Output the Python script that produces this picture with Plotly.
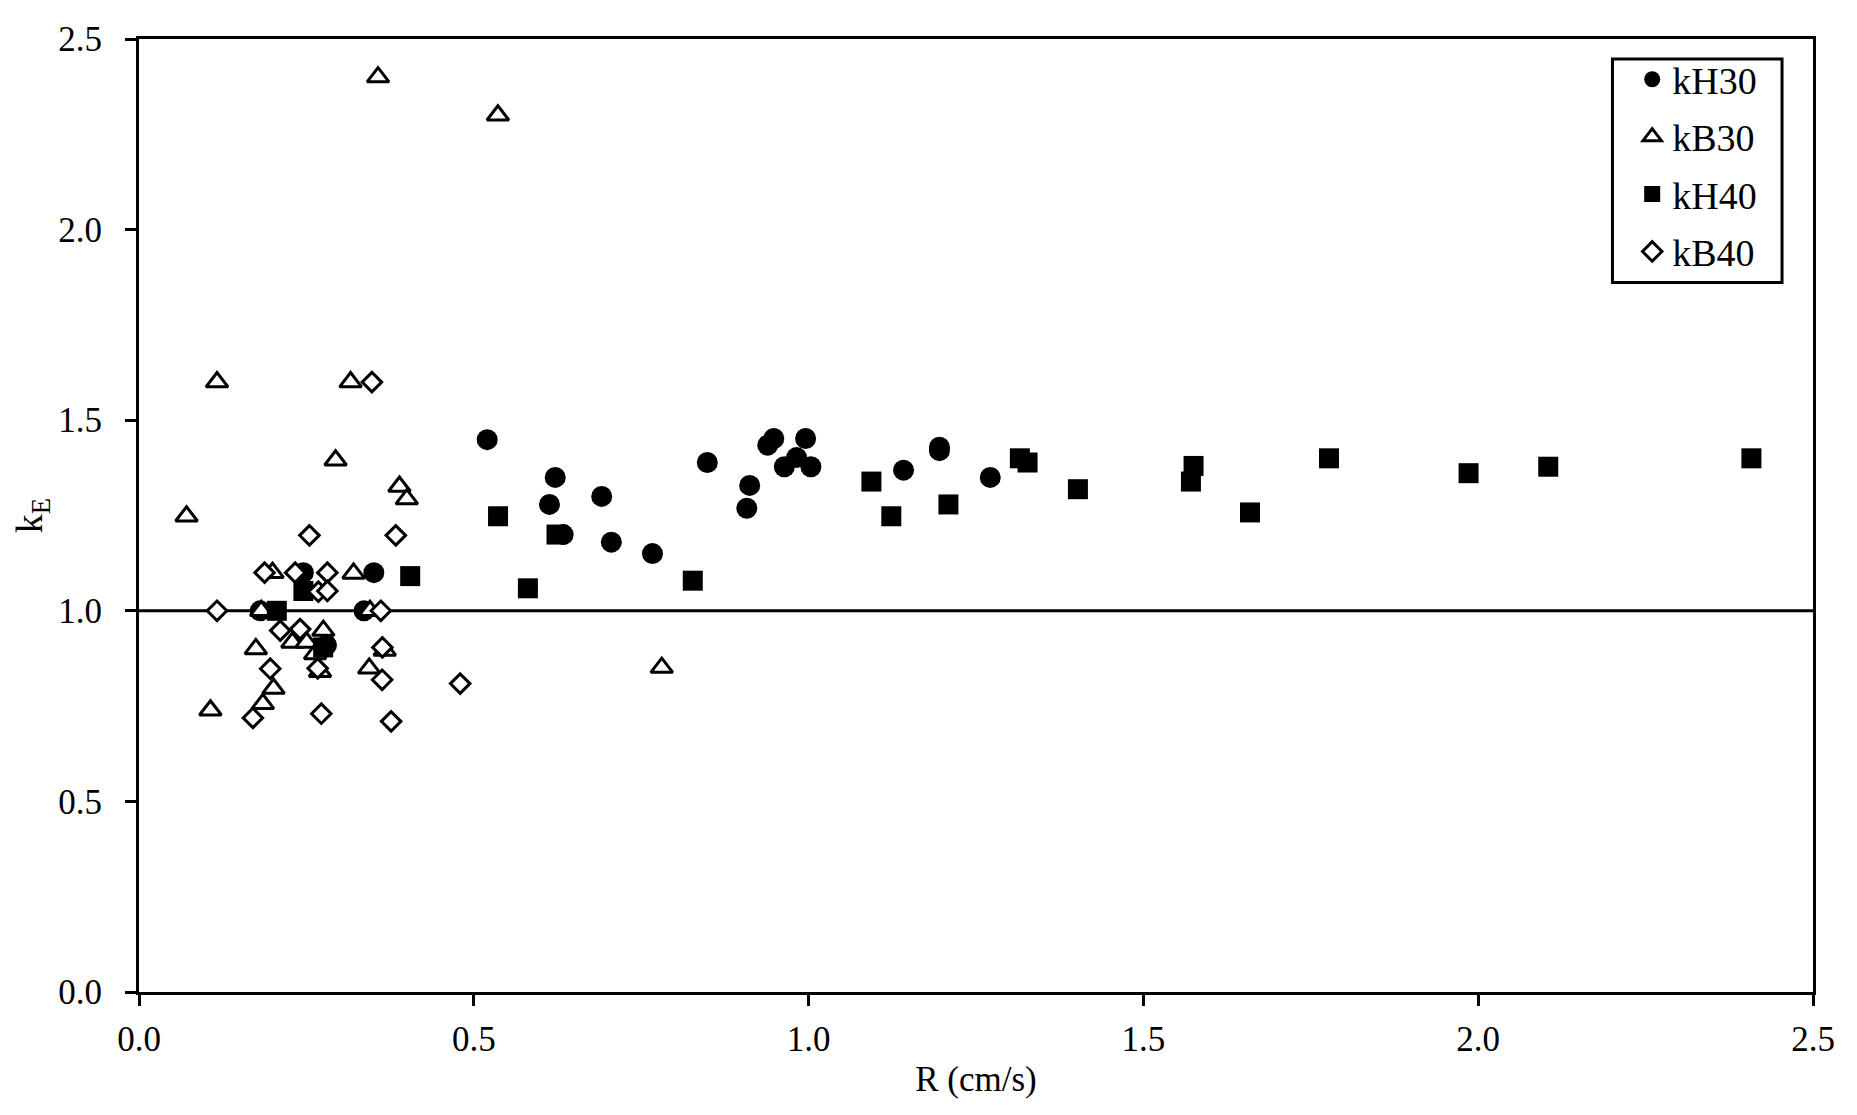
import plotly.graph_objects as go

# kH30 (filled circles)
kh30_x = [0.181, 0.2455, 0.280, 0.336, 0.3507, 0.520, 0.613, 0.6216, 0.6335, 0.691,
          0.7054, 0.7668, 0.8487, 0.9077, 0.912, 0.939, 0.948, 0.9638, 0.982, 0.9955,
          1.0034, 1.1418, 1.1954, 1.1954, 1.2713]
kh30_y = [1.00, 1.10, 0.91, 1.00, 1.10, 1.449, 1.279, 1.350, 1.200, 1.300,
          1.180, 1.150, 1.389, 1.269, 1.329, 1.4345, 1.452, 1.378, 1.402, 1.452,
          1.378, 1.369, 1.429, 1.420, 1.350]

# kB30 (open triangles)
kb30_x = [0.071, 0.1067, 0.1165, 0.1745, 0.1826, 0.185, 0.1994, 0.2009, 0.229, 0.2504,
          0.263, 0.2704, 0.2753, 0.2936, 0.316, 0.3204, 0.3438, 0.345, 0.357, 0.367,
          0.389, 0.400, 0.536, 0.7807]
kb30_y = [1.248, 0.739, 1.600, 0.900, 1.000, 0.756, 1.100, 0.796, 0.917, 0.917,
          0.887, 0.840, 0.948, 1.395, 1.600, 1.098, 0.849, 1.000, 2.400, 0.896,
          1.326, 1.293, 2.300, 0.851]

# kH40 (filled squares)
kh40_x = [0.2058, 0.2455, 0.275, 0.405, 0.5362, 0.5808, 0.6235, 0.827, 1.0938, 1.1235,
          1.2088, 1.3155, 1.327, 1.4022, 1.571, 1.5749, 1.6592, 1.7772, 1.9856, 2.1046,
          2.408]
kh40_y = [1.000, 1.052, 0.904, 1.091, 1.248, 1.059, 1.200, 1.079, 1.339, 1.248,
          1.279, 1.400, 1.389, 1.319, 1.339, 1.380, 1.258, 1.400, 1.361, 1.378,
          1.400]

# kB40 (open diamonds)
kb40_x = [0.1165, 0.1701, 0.1875, 0.196, 0.2109, 0.2332, 0.2406, 0.2545, 0.2668, 0.2679,
          0.2723, 0.2813, 0.2813, 0.3478, 0.3612, 0.3631, 0.3635, 0.3765, 0.3835, 0.4796]
kb40_y = [1.000, 0.719, 1.100, 0.848, 0.948, 1.100, 0.952, 1.198, 0.849, 1.050,
          0.730, 1.100, 1.052, 1.600, 1.000, 0.819, 0.904, 0.710, 1.198, 0.809]

ref_y = 1.0
axis_range = [0, 2.5]
tick_vals = [0.0, 0.5, 1.0, 1.5, 2.0, 2.5]
tick_text = ["0.0", "0.5", "1.0", "1.5", "2.0", "2.5"]

FONT = "Liberation Serif, Times New Roman, serif"

fig = go.Figure()
fig.add_trace(go.Scatter(x=kh30_x, y=kh30_y, mode="markers", name="kH30", legendgroup="a",
                         marker=dict(symbol="circle", size=21, color="black",
                                     line=dict(width=0))))
fig.add_trace(go.Scatter(x=kb30_x, y=kb30_y, mode="markers", name="kB30", legendgroup="b",
                         marker=dict(symbol="triangle-up", size=19, color="white",
                                     line=dict(width=3, color="black"))))
fig.add_trace(go.Scatter(x=kh40_x, y=kh40_y, mode="markers", name="kH40", legendgroup="c",
                         marker=dict(symbol="square", size=20, color="black",
                                     line=dict(width=0))))
fig.add_trace(go.Scatter(x=kb40_x, y=kb40_y, mode="markers", name="kB40", legendgroup="d",
                         marker=dict(symbol="diamond", size=15, color="white",
                                     line=dict(width=3, color="black"))))

fig.add_shape(type="line", xref="x", yref="y", x0=axis_range[0], x1=axis_range[1],
              y0=ref_y, y1=ref_y, line=dict(color="black", width=3), layer="below")
# legend frame
fig.add_shape(type="rect", xref="paper", yref="paper", x0=0.8802, x1=0.9815,
              y0=0.7445, y1=0.9791, line=dict(color="black", width=3),
              fillcolor="rgba(0,0,0,0)", layer="above")

axis_common = dict(
    range=axis_range, tickvals=tick_vals, ticktext=tick_text,
    showline=True, linewidth=3, linecolor="black", mirror=True,
    ticks="outside", ticklen=11, tickwidth=3, tickcolor="black",
    showgrid=False, zeroline=False,
    tickfont=dict(family=FONT, size=35, color="black"),
)

fig.update_layout(
    width=1849, height=1107,
    margin=dict(l=127, r=44, t=25, b=123),
    plot_bgcolor="white", paper_bgcolor="white",
    font=dict(family=FONT, color="black"),
    xaxis=dict(**axis_common, ticklabelstandoff=3,
               title=dict(text="R (cm/s)", font=dict(family=FONT, size=35), standoff=9)),
    yaxis=dict(**axis_common, ticklabelstandoff=16,
               title=dict(text="k<sub>E</sub>", font=dict(family=FONT, size=38), standoff=12)),
    legend=dict(x=0.892, y=0.9905, xanchor="left", yanchor="top",
                borderwidth=0, bgcolor="rgba(0,0,0,0)",
                font=dict(family=FONT, size=38, color="black"),
                itemsizing="trace", tracegroupgap=5, traceorder="grouped"),
    showlegend=True,
)

fig.write_html("out.html")
